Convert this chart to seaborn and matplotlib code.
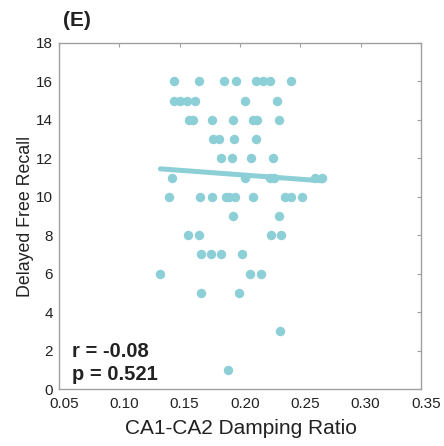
import matplotlib
matplotlib.use("Agg")
import matplotlib.pyplot as plt
import matplotlib.transforms as mtransforms
import seaborn as sns
import numpy as np
import pandas as pd

# Data
damping_ratio = [
    # y = 16
    0.145, 0.166, 0.187, 0.197, 0.213, 0.219, 0.225, 0.242,
    # y = 15
    0.145, 0.150, 0.156, 0.163, 0.204, 0.231,
    # y = 14
    0.158, 0.161, 0.177, 0.194, 0.211, 0.214, 0.232,
    # y = 13
    0.178, 0.183, 0.195, 0.213,
    # y = 12
    0.184, 0.193, 0.209, 0.227,
    # y = 11
    0.144, 0.204, 0.225, 0.228, 0.262, 0.268,
    # y = 10
    0.141, 0.167, 0.177, 0.188, 0.191, 0.196, 0.211, 0.237, 0.242, 0.251,
    # y = 9
    0.194, 0.232,
    # y = 8
    0.157, 0.166, 0.226, 0.234,
    # y = 7
    0.168, 0.176, 0.184, 0.202,
    # y = 6
    0.134, 0.208, 0.217,
    # y = 5
    0.168, 0.199,
    # y = 3
    0.233,
    # y = 1
    0.190,
]
free_recall = (
    [16] * 8 + [15] * 6 + [14] * 7 + [13] * 4 + [12] * 4 + [11] * 6 +
    [10] * 10 + [9] * 2 + [8] * 4 + [7] * 4 + [6] * 3 + [5] * 2 + [3] + [1]
)
x_ticks = [0.05, 0.10, 0.15, 0.20, 0.25, 0.30, 0.35]
y_ticks = [0, 2, 4, 6, 8, 10, 12, 14, 16, 18]
panel_label = "(E)"
r_text = "r = -0.08"
p_text = "p = 0.521"

df = pd.DataFrame({"CA1-CA2 Damping Ratio": damping_ratio,
                   "Delayed Free Recall": free_recall})

sns.set_style("white")
plt.rcParams["font.family"] = ["Liberation Sans", "DejaVu Sans"]

color = "#8ccfd6"
text_color = "#222222"
fig = plt.figure(figsize=(4.44, 4.46), dpi=100)
ax = fig.add_axes([0.1329, 0.1278, 0.8153, 0.7758])

sns.regplot(data=df, x="CA1-CA2 Damping Ratio", y="Delayed Free Recall",
            ax=ax, ci=None, color=color,
            scatter_kws={"s": 46, "alpha": 1, "linewidths": 0},
            line_kws={"lw": 3.6, "solid_capstyle": "round"})

ax.set_xlim(0.05, 0.35)
ax.set_ylim(0, 18)
ax.set_xticks(x_ticks)
ax.set_xticklabels([f"{v:.2f}" for v in x_ticks])
ax.set_yticks(y_ticks)
ax.set_yticklabels([str(v) for v in y_ticks])

for s in ax.spines.values():
    s.set_visible(True)
    s.set_color("#a0a0a0")
    s.set_linewidth(1.0)

ax.tick_params(direction="in", length=3, width=0.8, color="#a0a0a0",
               top=True, right=True, labelsize=11, labelcolor=text_color)
ax.tick_params(axis="x", pad=6)
ax.tick_params(axis="y", pad=4.5)

offset = mtransforms.ScaledTranslation(5 / 100, 0, fig.dpi_scale_trans)
for lab in ax.get_xticklabels():
    lab.set_transform(lab.get_transform() + offset)

ax.set_xlabel("")
ax.set_ylabel("")
fig.text(241 / 444, 1 - 429 / 446, "CA1-CA2 Damping Ratio", fontsize=15,
         color=text_color, ha="center", va="center")
fig.text(25 / 444, 1 - 216 / 446, "Delayed Free Recall", fontsize=12.8,
         color=text_color, ha="center", va="center", rotation=90)

ax.text(0.037, 0.0925, r_text, transform=ax.transAxes, fontsize=14.5,
        fontweight="bold", color=text_color, ha="left", va="baseline")
ax.text(0.037, 0.026, p_text, transform=ax.transAxes, fontsize=14.5,
        fontweight="bold", color=text_color, ha="left", va="baseline")
fig.text(63 / 444, 1 - 21 / 446, panel_label, fontsize=15, fontweight="bold",
         color=text_color, ha="left", va="center")

fig.savefig("out.png", dpi=100)
